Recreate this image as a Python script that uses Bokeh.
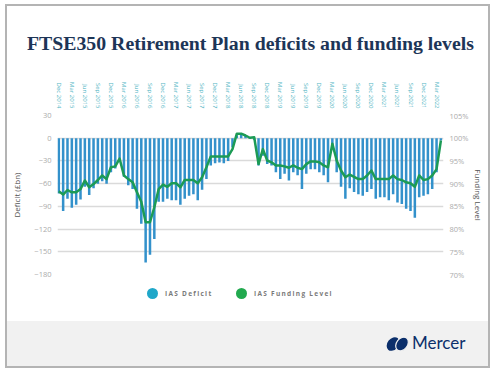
import math
from bokeh.plotting import figure
from bokeh.models import (Range1d, LinearAxis, FixedTicker, PrintfTickFormatter, Div)
from bokeh.layouts import column
from bokeh.embed import file_html
from bokeh.resources import INLINE

# ---------------- data ----------------
title_text = "FTSE350 Retirement Plan deficits and funding levels"
series_names = ["IAS Deficit", "IAS Funding Level"]
tick_labels = ["Dec 2014", "Mar 2015", "Jun 2015", "Sep 2015", "Dec 2015", "Mar 2016",
               "Jun 2016", "Sep 2016", "Dec 2016", "Mar 2017", "Jun 2017", "Sep 2017",
               "Dec 2017", "Mar 2018", "Jun 2018", "Sep 2018", "Dec 2018", "Mar 2019",
               "Jun 2019", "Sep 2019", "Dec 2019", "Mar 2020", "Jun 2020", "Sep 2020",
               "Dec 2020", "Mar 2021", "Jun 2021", "Sep 2021", "Dec 2021", "Mar 2022"]

# monthly IAS deficit (GBP bn), Dec 2014 .. Apr 2022
deficit = [-73, -96, -80, -92, -88, -81, -64, -75, -66, -60,
           -57, -60, -45, -40, -27, -51, -62, -67, -93, -113,
           -164, -154, -133, -84, -84, -80, -82, -82, -88, -80,
           -76, -74, -82, -68, -54, -36, -33, -32, -33, -30,
           -12, 4, 6, 4, -1, -2, -36, -23, -34, -36,
           -45, -54, -47, -56, -45, -49, -67, -47, -41, -41,
           -45, -49, -58, -12, -45, -64, -80, -66, -71, -74,
           -76, -71, -67, -80, -78, -78, -82, -74, -85, -87,
           -93, -96, -105, -78, -76, -74, -67, -45, -3]

# monthly IAS funding level (%)
funding = [88.3, 87.6, 88.6, 88.1, 88.1, 88.8, 90.7, 89.2, 89.9, 90.8,
           91.8, 91.0, 93.6, 93.8, 95.5, 91.8, 91.0, 90.3, 88.1, 86.0,
           81.5, 81.5, 84.8, 88.8, 89.8, 89.3, 90.1, 90.1, 89.2, 90.8,
           90.8, 90.8, 90.1, 91.4, 93.6, 96.0, 96.0, 96.0, 96.0, 96.0,
           97.6, 101.0, 101.0, 100.6, 100.1, 100.2, 94.3, 97.6, 95.1, 94.7,
           94.0, 94.0, 93.8, 93.5, 94.0, 93.5, 93.2, 94.3, 94.9, 94.9,
           94.7, 94.0, 93.6, 98.8, 95.1, 92.9, 91.4, 92.0, 91.5, 91.0,
           91.0, 91.8, 92.9, 91.0, 91.0, 91.0, 91.0, 91.8, 91.0, 90.8,
           90.3, 90.1, 89.3, 91.8, 90.8, 91.0, 91.8, 93.2, 99.5]

deficit_ticks = [-180, -150, -120, -90, -60, -30, 0, 30]
funding_ticks = [70, 75, 80, 85, 90, 95, 100, 105]

months = list(range(len(deficit)))
label_ticks = list(range(0, 3 * len(tick_labels), 3))

# ---------------- styles ----------------
W = 481
BAR = "#3391cb"
LINE = "#1c9b55"
GRID = "#dadada"
TICK = "#ababab"
TEAL_LBL = "#52b6c4"
NAVY = "#1d3557"
BRAND = "#0b2f6b"
FOOT = "#f1f1f1"
LEG_COLORS = ["#1fa7c9", "#22a94f"]

# ---- title ----
title = Div(text=(f'<div style="width:{W - 20}px;padding-top:27px;padding-left:20px;text-align:center;'
                  f'font-family:\'Liberation Serif\';font-weight:bold;font-size:19.8px;'
                  f'line-height:20px;color:{NAVY};white-space:nowrap;">{title_text}</div>'),
            width=W, height=54, margin=0)

# ---- main chart ----
p = figure(width=W, height=220, output_backend="svg", toolbar_location=None,
           x_range=Range1d(-0.3, 88.6), y_range=Range1d(-180, 30),
           x_axis_location="above", y_axis_location="left",
           min_border_left=50, min_border_right=45, min_border_top=55,
           min_border_bottom=6, outline_line_color=None,
           background_fill_color="white", border_fill_color="white")
p.extra_y_ranges = {"fl": Range1d(70, 105)}

xa = p.xaxis[0]
xa.ticker = FixedTicker(ticks=label_ticks)
xa.major_label_overrides = {tk: s for tk, s in zip(label_ticks, tick_labels)}
xa.major_label_orientation = -math.pi / 2
xa.major_label_text_font = "Open Sans"
xa.major_label_text_font_size = "6px"
xa.major_label_text_color = TEAL_LBL
xa.major_label_standoff = 7
xa.axis_line_color = None
xa.major_tick_line_color = None
xa.major_tick_out = 0
xa.minor_tick_line_color = None
p.xgrid.visible = False

ya = p.yaxis[0]
ya.ticker = FixedTicker(ticks=deficit_ticks)
ya.axis_label = "Deficit (£bn)"
ya.axis_label_text_font = "Open Sans"
ya.axis_label_text_font_style = "normal"
ya.axis_label_text_font_size = "8px"
ya.axis_label_text_color = "#555555"
ya.axis_label_standoff = 9
ya.major_label_text_font = "Open Sans"
ya.major_label_text_font_size = "7.5px"
ya.major_label_text_color = TICK
ya.major_label_standoff = 6
ya.axis_line_color = None
ya.major_tick_line_color = None
ya.major_tick_out = 0
ya.minor_tick_line_color = None
p.ygrid.ticker = FixedTicker(ticks=deficit_ticks)
p.ygrid.grid_line_color = GRID
p.ygrid.grid_line_width = 1.5

ra = LinearAxis(y_range_name="fl", ticker=FixedTicker(ticks=funding_ticks),
                formatter=PrintfTickFormatter(format="%d%%"),
                axis_label="Funding Level")
ra.axis_label_text_font = "Open Sans"
ra.axis_label_text_font_style = "normal"
ra.axis_label_text_font_size = "8px"
ra.axis_label_text_color = "#555555"
ra.axis_label_standoff = 1
ra.major_label_text_font = "Open Sans"
ra.major_label_text_font_size = "7.5px"
ra.major_label_text_color = TICK
ra.major_label_standoff = 6
ra.axis_line_color = None
ra.major_tick_line_color = None
ra.major_tick_out = 0
ra.minor_tick_line_color = None
p.add_layout(ra, "right")

p.vbar(x=months, top=deficit, bottom=0, width=0.58, fill_color=BAR, line_color=None)
p.line(months, funding, y_range_name="fl", line_color=LINE, line_width=2.5,
       line_join="round")

# ---- legend strip ----
def leg_item(left, color, name):
    return (f'<span style="position:absolute;left:{left}px;top:8px;width:11px;height:11px;'
            f'border-radius:50%;background:{color};"></span>'
            f'<span style="position:absolute;left:{left + 18}px;top:7px;font-family:\'Open Sans\';'
            f'font-weight:bold;font-size:6.5px;letter-spacing:1.3px;line-height:13px;'
            f'color:#7a7a7a;white-space:nowrap;">{name}</span>')

legend = Div(text=(f'<div style="position:relative;width:{W}px;height:41px;">'
                   + leg_item(140, LEG_COLORS[0], series_names[0])
                   + leg_item(229, LEG_COLORS[1], series_names[1]) + '</div>'),
             width=W, height=41, margin=0)

# ---- footer band with brand ----
logo_svg = (f'<svg width="24" height="18" viewBox="0 0 24 18" style="position:absolute;left:379px;top:14px;">'
            f'<ellipse cx="7" cy="9" rx="5.5" ry="7.5" transform="rotate(38 7 9)" fill="{BRAND}"/>'
            f'<ellipse cx="16" cy="9" rx="5.5" ry="7.5" transform="rotate(38 16 9)" fill="{BRAND}" '
            f'stroke="{FOOT}" stroke-width="1.2"/></svg>')
footer = Div(text=(f'<div style="position:relative;width:{W}px;height:45px;background:{FOOT};">'
                   f'{logo_svg}'
                   f'<span style="position:absolute;left:405px;top:11px;font-family:Lato;'
                   f'font-size:17px;line-height:22px;color:{BRAND};">Mercer</span></div>'),
             width=W, height=45, margin=0)

layout = column(title, p, legend, footer, spacing=0,
                styles={"outline": "2px solid #b4b4b4", "outline-offset": "0px",
                        "margin-left": "7px", "margin-top": "6px"})

open("out.html", "w").write(file_html(layout, INLINE))
